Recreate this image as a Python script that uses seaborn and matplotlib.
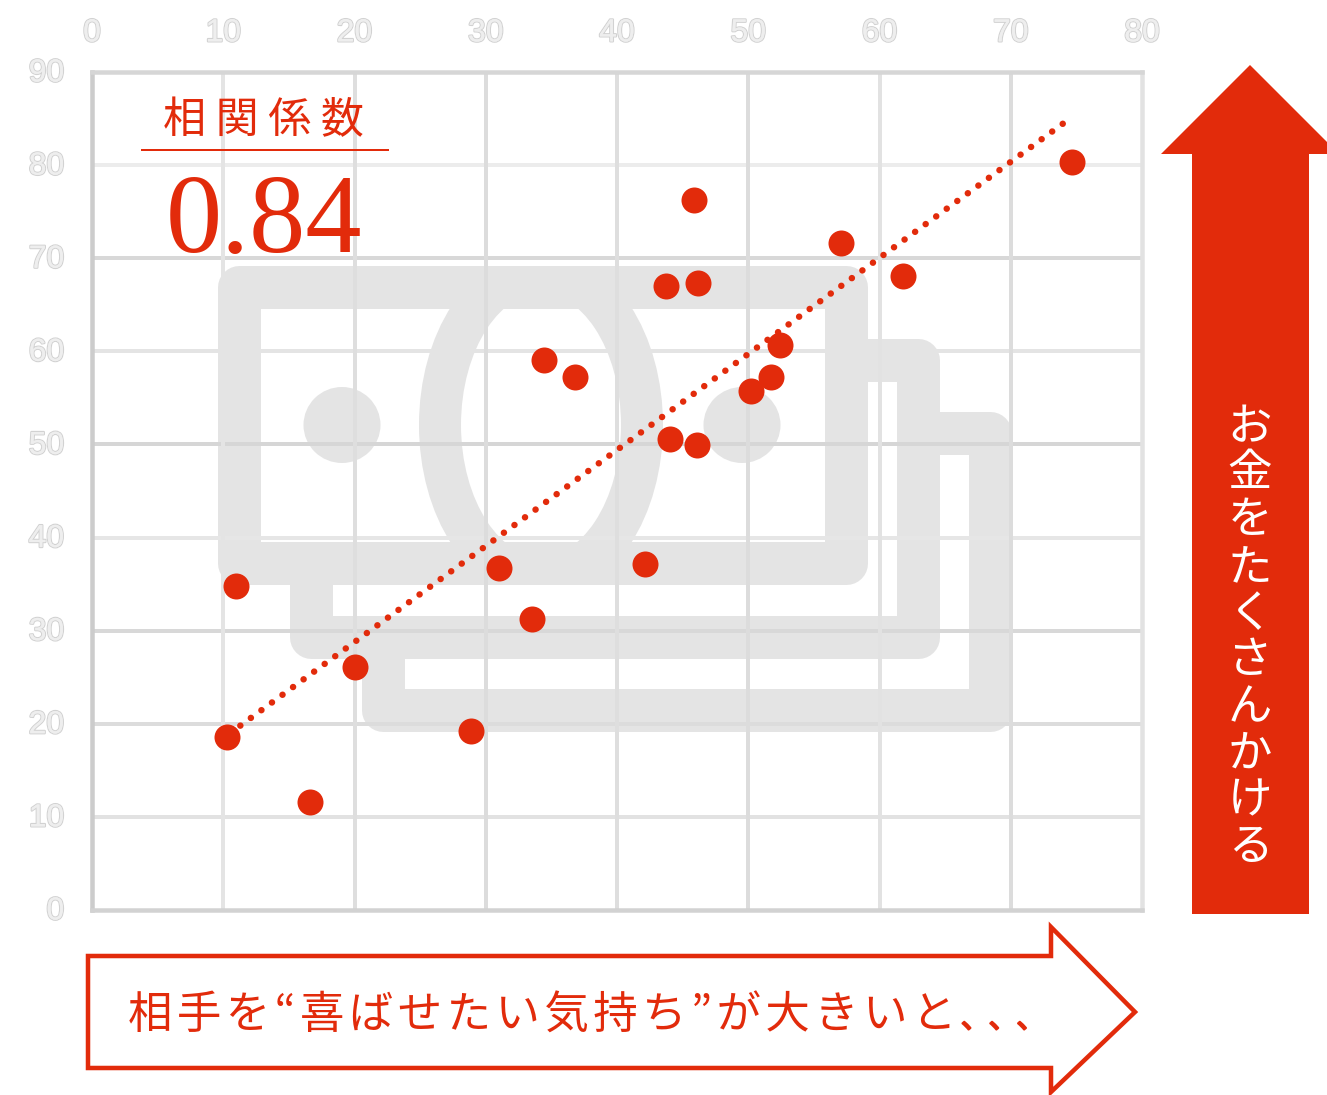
import matplotlib
matplotlib.use("Agg")
import matplotlib.pyplot as plt
import matplotlib.patheffects as pe
from matplotlib.patches import Polygon, Ellipse, Rectangle
from matplotlib.transforms import ScaledTranslation
import pandas as pd
import seaborn as sns

# ---- data ----
kimochi = [10.3, 11.0, 16.6, 20.0, 28.9, 31.0, 33.5, 34.4, 36.8, 42.1, 43.7,
           44.0, 46.1, 45.9, 46.2, 50.2, 51.7, 52.4, 57.1, 61.8, 74.7]
okane = [18.6, 34.8, 11.6, 26.1, 19.2, 36.7, 31.3, 59.1, 57.2, 37.2, 67.0,
         50.6, 49.9, 76.3, 67.3, 55.7, 57.2, 60.7, 71.6, 68.1, 80.3]
trend_x = [11.3, 74.7]
trend_y = [19.8, 85.2]
x_ticks = [0, 10, 20, 30, 40, 50, 60, 70, 80]
y_ticks = [0, 10, 20, 30, 40, 50, 60, 70, 80, 90]
coef_title = "相 関 係 数"
coef_value = "0.84"
y_caption = "お金をたくさんかける"
x_caption = "相手を“喜ばせたい気持ち”が大きいと"
x_caption_tail = "、、、"

RED = "#e22b0b"
GREY = "#e4e4e4"
W, H = 1327, 1095
sns.set_theme(style="white")
plt.rcParams["font.family"] = ["Noto Sans CJK JP", "DejaVu Sans"]
px = 0.72

fig = plt.figure(figsize=(W / 100, H / 100), dpi=100, facecolor="white")


def overlay(z):
    a = fig.add_axes([0, 0, 1, 1], zorder=z)
    a.set_xlim(0, W)
    a.set_ylim(H, 0)
    a.axis("off")
    a.patch.set_alpha(0)
    return a


# watermark behind the grid
bg = overlay(0)
wm = dict(color=GREY, lw=43 * px, solid_joinstyle="round", solid_capstyle="butt")
bg.add_patch(Polygon([(239, 287), (846, 287), (846, 563), (239, 563)], closed=True, fill=False,
                     ec=GREY, lw=43 * px, joinstyle="round"))
bg.plot([311, 311, 918, 918, 860], [575, 637, 637, 360, 360], **wm)
bg.plot([383, 383, 990, 990, 930], [650, 710, 710, 433, 433], **wm)
lens = Ellipse((541, 425), 202, 306, fill=False, ec=GREY, lw=42 * px)
bg.add_patch(lens)
lens.set_clip_path(Rectangle((400, 287), 290, 276, transform=bg.transData))
bg.add_patch(Ellipse((342, 425), 77, 76, fc=GREY, ec="none"))
bg.add_patch(Ellipse((742, 425), 77, 76, fc=GREY, ec="none"))

# main chart
ax = fig.add_axes([92 / W, (H - 910) / H, (1142 - 92) / W, (910 - 72) / H], zorder=1)
ax.patch.set_alpha(0)
ax.set_xlim(0, 80)
ax.set_ylim(0, 90)
ax.set_xticks(x_ticks)
ax.set_yticks(y_ticks)

h_col = {10: "#e2e2e2", 20: "#dcdcdc", 30: "#d8d8d8", 40: "#e6e6e6", 50: "#d6d6d6",
         60: "#e4e4e4", 70: "#d8d8d8", 80: "#ececec"}
v_col = {10: "#e4e4e4", 20: "#dedede", 30: "#dcdcdc", 40: "#dedede", 50: "#dcdcdc",
         60: "#e2e2e2", 70: "#dcdcdc"}
for k, c in h_col.items():
    ax.axhline(k, color=c, lw=4 * px, zorder=1)
for k, c in v_col.items():
    ax.axvline(k, color=c, lw=4 * px, zorder=1)
for side, c in dict(left="#cccccc", bottom="#d2d2d2", top="#d6d6d6", right="#e2e2e2").items():
    ax.spines[side].set_color(c)
    ax.spines[side].set_linewidth(4.5 * px)
    ax.spines[side].set_visible(True)

trend = pd.DataFrame({"x": trend_x, "y": trend_y})
sns.lineplot(data=trend, x="x", y="y", ax=ax, color=RED, lw=6.5 * px, zorder=3)
ax.lines[-1].set_linestyle((0, (0.01, 2.0)))
ax.lines[-1].set_dash_capstyle("round")

df = pd.DataFrame({"kimochi": kimochi, "okane": okane})
sns.scatterplot(data=df, x="kimochi", y="okane", ax=ax, color=RED, s=(26 * px) ** 2,
                linewidth=0, zorder=4, clip_on=False)
ax.set_xlabel("")
ax.set_ylabel("")

ax.tick_params(axis="x", length=0, top=False, bottom=False, labeltop=True, labelbottom=False, pad=17)
ax.tick_params(axis="y", length=0, left=False, labelleft=True, pad=20)
for t in ax.get_xticklabels() + ax.get_yticklabels():
    t.set_family("Liberation Sans")
    t.set_fontsize(23)
    t.set_color("#eeeeee")
    t.set_path_effects([pe.withStroke(linewidth=1.6, foreground="#d2d2d2"),
                        pe.Normal()])
for t in ax.get_yticklabels():
    t.set_transform(t.get_transform() + ScaledTranslation(0, 2 / 100, fig.dpi_scale_trans))

# annotations and arrows
fg = overlay(2)
fg.text(263, 121, coef_title, color=RED, fontsize=31, ha="center", va="center")
fg.plot([141, 389], [150, 150], color=RED, lw=2 * px, solid_capstyle="butt")
fg.text(264, 252, coef_value, color=RED, fontsize=81, family="Liberation Serif",
        ha="center", va="baseline")

fg.add_patch(Polygon([(1250, 65), (1339, 154), (1309, 154), (1309, 914), (1192, 914),
                      (1192, 154), (1161, 154)], closed=True, fc=RED, ec="none"))
fg.text(1250, 637, "\n".join(y_caption), color="white", fontsize=32, ha="center",
        va="center", linespacing=1.02, multialignment="center")

fg.add_patch(Polygon([(88, 956), (1051, 956), (1051, 927), (1135, 1012), (1051, 1092),
                      (1051, 1068), (88, 1068)], closed=True, fc="white", ec=RED, lw=4.5 * px,
                     joinstyle="miter"))
fg.text(128, 1029, "\u200a".join(x_caption), color=RED, fontsize=32, ha="left", va="baseline")
fg.text(961, 1028, x_caption_tail, color=RED, fontsize=20, ha="left", va="baseline",
        path_effects=[pe.withStroke(linewidth=1.5, foreground=RED)])

fig.savefig("out.png", dpi=100, facecolor="white")
